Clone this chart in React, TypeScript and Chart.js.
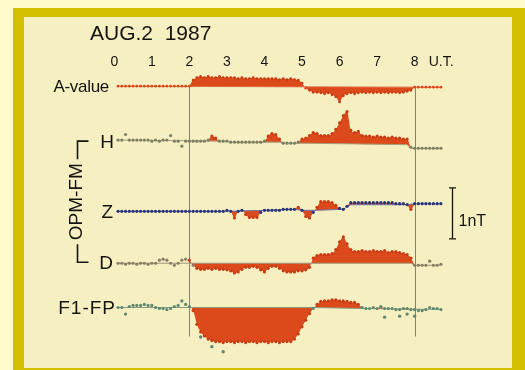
import { useEffect, useRef } from "react";
import { Chart, registerables } from "chart.js";

Chart.register(...registerables);

// ---- data -------------------------------------------------------------
const HOURS = [
  0.1, 0.2, 0.3, 0.4, 0.5, 0.6, 0.7, 0.8, 0.9, 1.0,
  1.1, 1.2, 1.3, 1.4, 1.5, 1.6, 1.7, 1.8, 1.9, 2.0,
  2.1, 2.2, 2.3, 2.4, 2.5, 2.6, 2.7, 2.8, 2.9, 3.0,
  3.1, 3.2, 3.3, 3.4, 3.5, 3.6, 3.7, 3.8, 3.9, 4.0,
  4.1, 4.2, 4.3, 4.4, 4.5, 4.6, 4.7, 4.8, 4.9, 5.0,
  5.1, 5.2, 5.3, 5.4, 5.5, 5.6, 5.7, 5.8, 5.9, 6.0,
  6.1, 6.2, 6.3, 6.4, 6.5, 6.6, 6.7, 6.8, 6.9, 7.0,
  7.1, 7.2, 7.3, 7.4, 7.5, 7.6, 7.7, 7.8, 7.9, 8.0,
  8.1, 8.2, 8.3, 8.4, 8.5, 8.6, 8.7,
];

const TICK_HOURS = [0, 1, 2, 3, 4, 5, 6, 7, 8];
const TICK_LABELS = ["0", "1", "2", "3", "4", "5", "6", "7", "8"];
const DIVIDER_HOURS = [2, 8];
const TITLE = "AUG.2  1987";
const UNIT_LABEL = "U.T.";
const SCALE_LABEL = "1nT";
const AXIS_LABEL = "OPM-FM";

const ROW_NAMES = ["A-value", "H", "Z", "D", "F1-FP"];

// values in nT relative to each row's zero level
const A_VALUE = [
  0, 0, 0, 0, 0, 0, 0, 0, 0, 0,
  0, 0, 0, 0, 0, 0, 0, 0, 0, 0,
  0.12, 0.17, 0.19, 0.17, 0.19, 0.17, 0.17, 0.19, 0.17, 0.17,
  0.17, 0.17, 0.15, 0.17, 0.15, 0.15, 0.17, 0.15, 0.15, 0.15,
  0.15, 0.15, 0.15, 0.13, 0.15, 0.13, 0.15, 0.13, 0.12, 0.06,
  -0.04, -0.08, -0.12, -0.12, -0.13, -0.15, -0.13, -0.17, -0.21, -0.31,
  -0.19, -0.15, -0.13, -0.15, -0.13, -0.12, -0.13, -0.12, -0.13, -0.12,
  -0.13, -0.12, -0.13, -0.12, -0.12, -0.13, -0.12, -0.1, -0.08, -0.02,
  -0.02, -0.02, -0.02, -0.02, -0.02, -0.02, -0.02,
];
const A_QUIET_HOURS = [0.1, 8.0, 8.7];
const A_QUIET = [0, -0.02, -0.02];

const H_VALUE = [
  0.04, 0.04, 0.15, 0.04, 0.04, 0.04, 0.04, 0.04, 0.04, 0.02,
  0.04, 0.02, 0.04, 0.04, 0.13, 0.02, 0.02, -0.08, 0.02, 0.02,
  0.02, 0.02, 0.02, 0.02, 0.04, 0.12, 0.08, 0.02, 0.02, 0.02,
  0, 0, 0, 0, 0, 0, 0, 0, 0, 0.02,
  0.12, 0.17, 0.15, 0.06, -0.02, -0.02, -0.02, -0.02, 0, 0.06,
  0.08, 0.13, 0.19, 0.17, 0.13, 0.13, 0.13, 0.17, 0.25, 0.38,
  0.52, 0.6, 0.23, 0.19, 0.21, 0.13, 0.12, 0.12, 0.1, 0.12,
  0.1, 0.1, 0.08, 0.1, 0.08, 0.08, 0.06, 0.06, -0.1, -0.12,
  -0.12, -0.12, -0.12, -0.12, -0.12, -0.12, -0.12,
];
const H_QUIET_HOURS = [0.1, 3.0, 3.1, 4.4, 4.5, 5.0, 7.8, 7.9, 8.7];
const H_QUIET = [0.04, 0.02, 0, 0, -0.02, -0.02, -0.05, -0.12, -0.12];

const Z_VALUE = [
  0, 0, 0, 0, 0, 0, 0, 0, 0, 0,
  0, 0, 0, 0, 0, 0, 0, 0, 0, 0,
  0, 0, 0, 0, 0, 0, 0, 0, 0,
  0.02, 0, -0.13, 0, 0.02, -0.06, -0.12, -0.12, -0.12, -0.02,
  0.02, 0.02, 0.02, 0.02, 0.02, 0.04, 0.04, 0.04, 0.04, 0.08,
  0.02, -0.1, -0.13, -0.02, 0.08, 0.19, 0.19, 0.19, 0.17, 0.12,
  0.06, 0.04, 0.1, 0.17, 0.17, 0.17, 0.17, 0.17, 0.17, 0.17,
  0.17, 0.17, 0.17, 0.17, 0.17, 0.15, 0.15, 0.15, 0.13, 0.04,
  0.15, 0.15, 0.15, 0.15, 0.15, 0.15, 0.15, 0.15,
];
const Z_QUIET_HOURS = [0.1, 3.0, 4.0, 4.8, 5.0, 5.4, 6.1, 6.3, 7.8, 8.0, 8.7];
const Z_QUIET = [0, 0, 0.02, 0.04, 0.02, 0.02, 0.04, 0.13, 0.13, 0.15, 0.15];

const D_VALUE = [
  0, 0, -0.02, 0, 0, -0.02, 0, 0, -0.02, 0,
  0, 0.06, 0.08, 0.06, 0, -0.04, 0, 0.06, 0.08, 0.06,
  -0.04, -0.1, -0.12, -0.12, -0.1, -0.12, -0.1, -0.12, -0.12, -0.13,
  -0.15, -0.19, -0.17, -0.12, -0.08, -0.08, -0.06, -0.08, -0.13, -0.17,
  -0.1, -0.06, -0.06, -0.1, -0.15, -0.17, -0.17, -0.17, -0.15, -0.15,
  -0.13, -0.08, 0.1, 0.15, 0.17, 0.17, 0.17, 0.19, 0.27, 0.42,
  0.52, 0.38, 0.27, 0.23, 0.23, 0.25, 0.23, 0.23, 0.25, 0.23,
  0.23, 0.25, 0.21, 0.23, 0.23, 0.21, 0.19, 0.17, 0.1, -0.04,
  -0.04, -0.04, -0.04, 0.04, -0.04, -0.04, -0.02,
];
const D_QUIET_HOURS = [0.1, 7.9, 8.0, 8.7];
const D_QUIET = [0, 0, -0.04, -0.04];

const F_VALUE = [
  0, 0, -0.13, 0.02, 0.04, 0.04, 0.04, 0.06, 0.04, 0.04,
  0, -0.02, -0.02, -0.04, -0.02, 0.02, 0.04, 0.13, 0.06, 0.02,
  -0.06, -0.33, -0.48, -0.56, -0.62, -0.65, -0.67, -0.67, -0.69, -0.67,
  -0.67, -0.69, -0.67, -0.67, -0.69, -0.67, -0.67, -0.69, -0.67, -0.67,
  -0.69, -0.67, -0.67, -0.69, -0.67, -0.67, -0.67, -0.62, -0.52, -0.38,
  -0.25, -0.12, -0.02, 0.06, 0.12, 0.13, 0.13, 0.15, 0.15, 0.13,
  0.13, 0.12, 0.1, 0.1, 0.06, 0, -0.02, -0.02, 0, -0.02,
  0.02, -0.02, -0.02, -0.02, -0.04, -0.04, -0.02, -0.02, -0.04, -0.04,
  -0.06, -0.06, -0.04, 0, -0.02, -0.02, -0.04,
];
const F_QUIET_HOURS = [0.1, 5.3, 6.6, 8.7];
const F_QUIET = [0, 0, -0.02, -0.04];
const F_SCATTER_HOURS = [2.3, 2.6, 2.9, 7.2, 7.6, 7.8, 8.0];
const F_SCATTER = [-0.58, -0.77, -0.87, -0.19, -0.17, -0.13, -0.17];

// ---- layout / style ---------------------------------------------------
const W = 525;
const H = 370;
const PX_PER_NT = 52;
const X_MIN = -2.938;
const X_MAX = 10.833;
const Y_MAX = H / PX_PER_NT;
const ROW_OFFSETS = [5.5, 4.4, 3.04, 2.02, 1.15];
const DIVIDER_BOTTOM = 0.58;
const SCALE_BAR_HOUR = 9.0;
const SCALE_BAR_FROM = 2.5;

const RED = "#dc4a1c";
const RED_DOT = "#c83c14";
const INK = "#161410";

type Row = {
  name: string;
  offset: number;
  values: number[];
  quietHours: number[];
  quiet: number[];
  dot: string;
  line: string;
  labelRight: number;
  font: string;
  spacing: string;
};

const ROWS: Row[] = [
  { name: ROW_NAMES[0], offset: ROW_OFFSETS[0], values: A_VALUE, quietHours: A_QUIET_HOURS, quiet: A_QUIET, dot: "#d9481c", line: "#de6a40", labelRight: 109, font: "17px 'Liberation Sans', Arial, sans-serif", spacing: "-0.3px" },
  { name: ROW_NAMES[1], offset: ROW_OFFSETS[1], values: H_VALUE, quietHours: H_QUIET_HOURS, quiet: H_QUIET, dot: "#7c8062", line: "#a4a07c", labelRight: 114, font: "19px 'Liberation Sans', Arial, sans-serif", spacing: "0px" },
  { name: ROW_NAMES[2], offset: ROW_OFFSETS[2], values: Z_VALUE, quietHours: Z_QUIET_HOURS, quiet: Z_QUIET, dot: "#28347e", line: "#6c72a4", labelRight: 113, font: "19px 'Liberation Sans', Arial, sans-serif", spacing: "0px" },
  { name: ROW_NAMES[3], offset: ROW_OFFSETS[3], values: D_VALUE, quietHours: D_QUIET_HOURS, quiet: D_QUIET, dot: "#8a7d64", line: "#a2967c", labelRight: 113, font: "19px 'Liberation Sans', Arial, sans-serif", spacing: "0px" },
  { name: ROW_NAMES[4], offset: ROW_OFFSETS[4], values: F_VALUE, quietHours: F_QUIET_HOURS, quiet: F_QUIET, dot: "#5d8870", line: "#8e9a80", labelRight: 116, font: "19px 'Liberation Sans', Arial, sans-serif", spacing: "1px" },
];

function quietAt(row: Row, h: number): number {
  const hs = row.quietHours;
  const vs = row.quiet;
  if (h <= hs[0]) return vs[0];
  for (let i = 1; i < hs.length; i++) {
    if (h <= hs[i]) {
      const f = (h - hs[i - 1]) / (hs[i] - hs[i - 1]);
      return vs[i - 1] + f * (vs[i] - vs[i - 1]);
    }
  }
  return vs[vs.length - 1];
}

const annotations = {
  id: "annotations",
  beforeDatasetsDraw(chart: any) {
    const { ctx, scales } = chart;
    const x = scales.x;
    const y = scales.y;
    ctx.save();
    ctx.strokeStyle = "#858070";
    ctx.lineWidth = 1;
    for (const h of DIVIDER_HOURS) {
      const px = Math.round(x.getPixelForValue(h)) + 0.5;
      ctx.beginPath();
      ctx.moveTo(px, y.getPixelForValue(ROW_OFFSETS[0]));
      ctx.lineTo(px, y.getPixelForValue(DIVIDER_BOTTOM));
      ctx.stroke();
    }
    ctx.restore();
  },
  afterDraw(chart: any) {
    const { ctx, scales } = chart;
    const x = scales.x;
    const y = scales.y;
    ctx.save();
    ctx.fillStyle = INK;
    ctx.strokeStyle = INK;

    // title
    ctx.font = "21px 'Liberation Sans', Arial, sans-serif";
    ctx.textAlign = "left";
    ctx.textBaseline = "alphabetic";
    ctx.fillText(TITLE, 90, 40);

    // hour ticks
    ctx.font = "14px 'Liberation Sans', Arial, sans-serif";
    ctx.textAlign = "center";
    ctx.textBaseline = "middle";
    TICK_HOURS.forEach((h, i) => {
      ctx.fillText(TICK_LABELS[i], x.getPixelForValue(h), 62);
    });
    ctx.textAlign = "left";
    ctx.fillText(UNIT_LABEL, x.getPixelForValue(8) + 14, 62);

    // row labels
    ctx.textAlign = "right";
    for (const row of ROWS) {
      ctx.font = row.font;
      (ctx as any).letterSpacing = row.spacing;
      ctx.fillText(row.name, row.labelRight, y.getPixelForValue(row.offset) + 1);
    }
    (ctx as any).letterSpacing = "0px";

    // OPM-FM bracket
    const yTop = y.getPixelForValue(ROW_OFFSETS[1]) - 1;
    const yBot = y.getPixelForValue(ROW_OFFSETS[3]) - 1;
    const bx = 77.5;
    const mid = (yTop + yBot) / 2;
    ctx.font = "19px 'Liberation Sans', Arial, sans-serif";
    const tw = ctx.measureText(AXIS_LABEL).width;
    ctx.lineWidth = 1.6;
    ctx.beginPath();
    ctx.moveTo(bx + 11, yTop);
    ctx.lineTo(bx, yTop);
    ctx.lineTo(bx, mid - tw / 2 - 4);
    ctx.moveTo(bx, mid + tw / 2 + 4);
    ctx.lineTo(bx, yBot);
    ctx.lineTo(bx + 11, yBot);
    ctx.stroke();
    ctx.save();
    ctx.translate(bx - 1, mid);
    ctx.rotate(-Math.PI / 2);
    ctx.textAlign = "center";
    ctx.textBaseline = "middle";
    ctx.fillText(AXIS_LABEL, 0, 0);
    ctx.restore();

    // 1 nT scale bar
    const sx = Math.round(x.getPixelForValue(SCALE_BAR_HOUR)) + 0.5;
    const sTop = y.getPixelForValue(SCALE_BAR_FROM + 1);
    const sBot = y.getPixelForValue(SCALE_BAR_FROM);
    ctx.lineWidth = 1.3;
    ctx.beginPath();
    ctx.moveTo(sx, sTop);
    ctx.lineTo(sx, sBot);
    ctx.moveTo(sx - 3.5, sTop);
    ctx.lineTo(sx + 3.5, sTop);
    ctx.moveTo(sx - 3.5, sBot);
    ctx.lineTo(sx + 3.5, sBot);
    ctx.stroke();
    ctx.font = "16px 'Liberation Sans', Arial, sans-serif";
    ctx.textAlign = "left";
    ctx.textBaseline = "middle";
    ctx.fillText(SCALE_LABEL, sx + 6, (sTop + sBot) / 2 + 8);
    ctx.restore();
  },
};

export default function App() {
  const canvasRef = useRef<HTMLCanvasElement | null>(null);

  useEffect(() => {
    if (!canvasRef.current) return;
    const datasets: any[] = [];
    ROWS.forEach((row, r) => {
      const quietIndex = datasets.length;
      datasets.push({
        type: "line",
        data: row.quietHours.map((h, i) => ({ x: h, y: row.offset + row.quiet[i] })),
        borderColor: row.line,
        borderWidth: 1,
        pointRadius: 0,
        fill: false,
        tension: 0,
        order: 2,
      });
      const fillPts = HOURS.map((h, i) => ({ x: h, y: row.offset + row.values[i] })).filter(
        (p) => p.x >= DIVIDER_HOURS[0] && p.x <= DIVIDER_HOURS[1]
      );
      datasets.push({
        type: "line",
        data: fillPts,
        borderWidth: 0,
        borderColor: "rgba(0,0,0,0)",
        pointRadius: 0,
        backgroundColor: RED,
        fill: quietIndex,
        cubicInterpolationMode: "monotone",
        order: 3,
      });
      const colors = HOURS.map((h, i) => {
        const dev = row.values[i] - quietAt(row, h);
        return h >= DIVIDER_HOURS[0] && h <= DIVIDER_HOURS[1] && Math.abs(dev) > 0.05 ? RED_DOT : row.dot;
      });
      datasets.push({
        type: "line",
        data: HOURS.map((h, i) => ({ x: h, y: row.offset + row.values[i] })),
        showLine: false,
        pointRadius: r === 0 ? 1.4 : 1.6,
        pointBorderWidth: 0,
        pointBackgroundColor: colors,
        order: 1,
      });
      if (r === 4) {
        datasets.push({
          type: "line",
          data: F_SCATTER_HOURS.map((h, i) => ({ x: h, y: row.offset + F_SCATTER[i] })),
          showLine: false,
          pointRadius: 1.7,
          pointBorderWidth: 0,
          pointBackgroundColor: row.dot,
          order: 1,
        });
      }
    });

    const chart = new Chart(canvasRef.current, {
      type: "line",
      data: { datasets },
      options: {
        animation: false,
        responsive: false,
        devicePixelRatio: 1,
        events: [],
        layout: { padding: 0 },
        plugins: { legend: { display: false }, tooltip: { enabled: false } },
        scales: {
          x: { type: "linear", min: X_MIN, max: X_MAX, display: false },
          y: { type: "linear", min: 0, max: Y_MAX, display: false },
        },
      },
      plugins: [annotations],
    });
    return () => chart.destroy();
  }, []);

  return (
    <div style={{ position: "fixed", left: 0, top: 0, width: W, height: H, background: "#fffccb", overflow: "hidden" }}>
      <div style={{ position: "absolute", left: 13, top: 8, width: 512, height: 362, background: "#d5c000" }} />
      <div style={{ position: "absolute", left: 24, top: 17, width: 488, height: 351, background: "#f6efc2" }} />
      <canvas ref={canvasRef} width={W} height={H} style={{ position: "absolute", left: 0, top: 0, width: W, height: H }} />
    </div>
  );
}
